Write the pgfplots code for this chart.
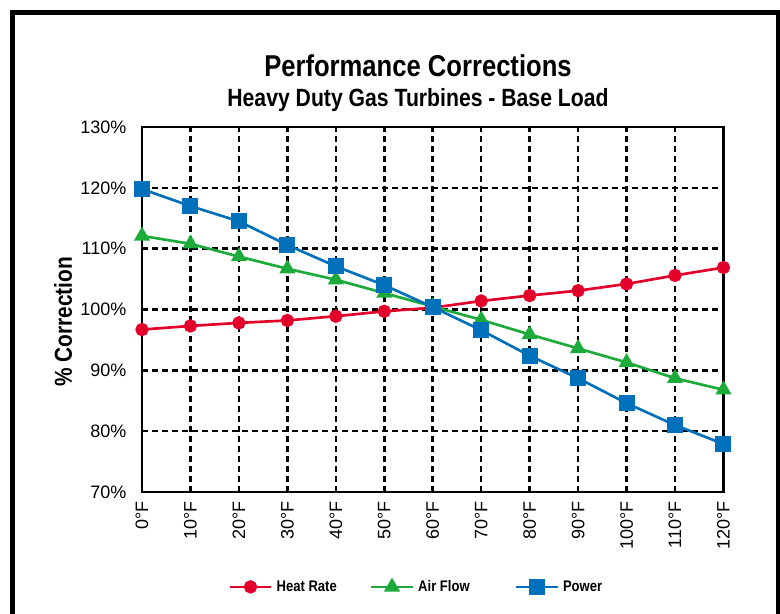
\documentclass[border=0pt]{standalone}
\usepackage{pgfplots}
\pgfplotsset{compat=1.18}
\usepackage{fontspec}
\setmainfont{Liberation Sans}
\newfontfamily\cond[FakeStretch=0.85]{Liberation Sans}
\definecolor{hrred}{RGB}{226,0,42}
\definecolor{afgreen}{RGB}{28,170,58}
\definecolor{pwblue}{RGB}{0,112,186}
\begin{document}
\begin{tikzpicture}
\useasboundingbox (-106.5pt,-90.75pt) rectangle (478.5pt,369pt);
\draw[line width=3.75pt] (-97.1pt,-120pt) rectangle (477.4pt,359.6pt);
\begin{axis}[
  at={(0pt,0pt)}, anchor=south west,
  scale only axis, width=436.1pt, height=273.75pt,
  xmin=0, xmax=120, ymin=70, ymax=130,
  xtick={0,10,...,120},
  xticklabels={0°F,10°F,20°F,30°F,40°F,50°F,60°F,70°F,80°F,90°F,100°F,110°F,120°F},
  ytick={70,80,...,130},
  yticklabels={70\%,80\%,90\%,100\%,110\%,120\%,130\%},
  ticklabel style={font=\fontsize{13.5}{15}\selectfont},
  x tick label style={rotate=90, anchor=east, yshift=0pt, xshift=-3.75pt},
  y tick label style={xshift=-8.25pt},
  xtick pos=bottom, ytick pos=left,
  tick align=inside,
  major tick length=3.75pt,
  xtick style={black, line width=1.5pt},
  ytick style={draw=none},
  axis line style={black, line width=2pt},
  grid=major,
  major grid style={black, line width=1.9pt, dash pattern=on 4.5pt off 3pt},
  legend columns=3,
  legend cell align=left,
  legend image code/.code={\draw[mark repeat=2,mark phase=2] plot coordinates {(0cm,0cm) (0.55cm,0cm) (1.1cm,0cm)};},
  legend style={at={(axis description cs:0.148,-0.26)}, anchor=west, draw=none, fill=none, inner sep=0pt,
    font=\cond\bfseries\fontsize{11.5}{13}\selectfont,
    nodes={inner sep=3pt},
    /tikz/column 2/.style={column sep=21.75pt},
    /tikz/column 4/.style={column sep=30.75pt}},
]
\addplot[hrred, line width=2pt, mark=*, mark size=4pt, mark options={solid, fill=hrred, draw=hrred}]
  coordinates {(0,96.7) (10,97.3) (20,97.8) (30,98.2) (40,98.9) (50,99.7) (60,100.3) (70,101.4) (80,102.3) (90,103.1) (100,104.2) (110,105.6) (120,106.9)};
\addlegendentry{Heat Rate}
\addplot[afgreen, line width=2pt, mark=triangle*, mark size=5pt, mark options={solid, fill=afgreen, draw=afgreen}]
  coordinates {(0,112.1) (10,110.8) (20,108.7) (30,106.7) (40,104.9) (50,102.7) (60,100.5) (70,98.3) (80,95.9) (90,93.6) (100,91.3) (110,88.7) (120,86.8)};
\addlegendentry{Air Flow}
\addplot[pwblue, line width=2pt, mark=square*, mark size=5pt, mark options={solid, fill=pwblue, draw=pwblue}]
  coordinates {(0,119.8) (10,117.0) (20,114.5) (30,110.6) (40,107.1) (50,104.0) (60,100.4) (70,96.6) (80,92.4) (90,88.7) (100,84.6) (110,81.0) (120,77.9)};
\addlegendentry{Power}
\end{axis}
\node[anchor=base, font=\cond\bfseries\fontsize{22.6}{25}\selectfont] at (207pt,311.25pt) {Performance Corrections};
\node[anchor=base, font=\cond\bfseries\fontsize{18.7}{21}\selectfont] at (207pt,288.75pt) {Heavy Duty Gas Turbines - Base Load};
\node[rotate=90, anchor=center, font=\cond\bfseries\fontsize{18.4}{21}\selectfont] at (-59.25pt,127.5pt) {\% Correction};
\end{tikzpicture}
\end{document}
